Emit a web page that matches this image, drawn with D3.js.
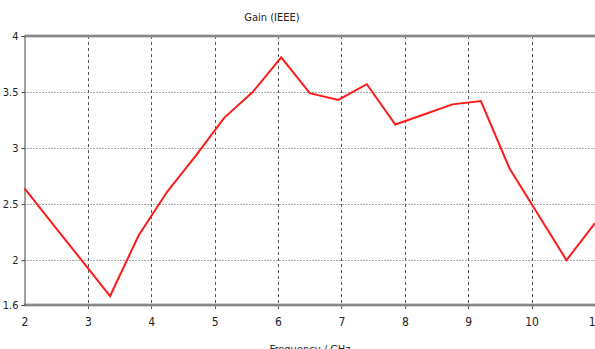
<!DOCTYPE html>
<html>
<head>
<meta charset="utf-8">
<script src="https://cdn.jsdelivr.net/npm/d3@7"></script>
<style>
  body { margin: 0; background: #fff; }
  svg { display: block; }
  text { font-family: "Liberation Sans Narrow", "DejaVu Sans Condensed", sans-serif; fill: #222; }
</style>
</head>
<body>
<svg width="595" height="349"></svg>
<script>
// frequency samples (GHz) and gain values
var freq = [2, 2.45, 2.9, 3.35, 3.8, 4.25, 4.7, 5.15, 5.6, 6.05, 6.5,
            6.95, 7.4, 7.85, 8.3, 8.75, 9.2, 9.65, 10.1, 10.55, 11];
var gain = [2.64, 2.32, 2.0, 1.68, 2.22, 2.61, 2.93, 3.27, 3.5, 3.81, 3.49,
            3.43, 3.57, 3.21, 3.30, 3.39, 3.42, 2.82, 2.41, 2.0, 2.33];
var xTicks = [2, 3, 4, 5, 6, 7, 8, 9, 10, 11];
var yTicks = [1.6, 2, 2.5, 3, 3.5, 4];
var yGrid = [2, 2.5, 3, 3.5];

var svg = d3.select("svg");
var plotL = 24.5, plotR = 595, plotT = 36, plotB = 305;

var x = d3.scaleLinear().domain([2, 11]).range([plotL, plotR]);
var y = d3.scaleLinear().domain([1.6, 4]).range([plotB, plotT]);

// vertical dashed grid
svg.append("g").selectAll("line").data(xTicks.slice(1)).enter().append("line")
    .attr("x1", function(d) { return Math.round(x(d)) + 0.5; })
    .attr("x2", function(d) { return Math.round(x(d)) + 0.5; })
    .attr("y1", plotT).attr("y2", plotB + 4)
    .attr("stroke", "#555").attr("stroke-width", 1)
    .attr("stroke-dasharray", "3,3");

// horizontal dotted grid
svg.append("g").selectAll("line").data(yGrid).enter().append("line")
    .attr("x1", plotL).attr("x2", plotR)
    .attr("y1", function(d) { return Math.round(y(d)) + 0.5; })
    .attr("y2", function(d) { return Math.round(y(d)) + 0.5; })
    .attr("stroke", "#555").attr("stroke-width", 1)
    .attr("stroke-dasharray", "1,2");

// top and bottom frame bars
[4, 1.6].forEach(function(v) {
    svg.append("line").attr("x1", plotL).attr("x2", plotR)
        .attr("y1", y(v)).attr("y2", y(v))
        .attr("stroke", "#aaa").attr("stroke-width", 3);
    svg.append("line").attr("x1", plotL).attr("x2", plotR)
        .attr("y1", y(v)).attr("y2", y(v))
        .attr("stroke", "#666").attr("stroke-width", 1);
});

// left axis
var yAxis = svg.append("g").attr("transform", "translate(" + plotL + ",0)")
    .call(d3.axisLeft(y).tickValues(yTicks).tickSize(3).tickPadding(3)
        .tickFormat(function(d) { return d; }));
yAxis.select(".domain").attr("stroke", "#444");
yAxis.selectAll(".tick line").attr("stroke", "#444");
yAxis.selectAll("text").style("font-size", "11px").attr("fill", "#222");

// bottom axis labels
var xAxis = svg.append("g").attr("transform", "translate(0," + plotB + ")")
    .call(d3.axisBottom(x).tickValues(xTicks).tickSize(0).tickPadding(12)
        .tickFormat(function(d) { return d; }));
xAxis.select(".domain").remove();
xAxis.selectAll("text").style("font-size", "12px").attr("fill", "#222");

// gain curve
var line = d3.line()
    .x(function(d, i) { return x(freq[i]); })
    .y(function(d) { return y(d); });
svg.append("path").datum(gain)
    .attr("d", line)
    .attr("fill", "none")
    .attr("stroke", "#ff1a1a")
    .attr("stroke-width", 2)
    .attr("stroke-linejoin", "miter");

// titles
svg.append("text").attr("x", 272).attr("y", 21)
    .attr("text-anchor", "middle").style("font-size", "11px")
    .text("Gain (IEEE)");
svg.append("text").attr("x", 310).attr("y", 353)
    .attr("text-anchor", "middle").style("font-size", "11px")
    .text("Frequency / GHz");
</script>
</body>
</html>
